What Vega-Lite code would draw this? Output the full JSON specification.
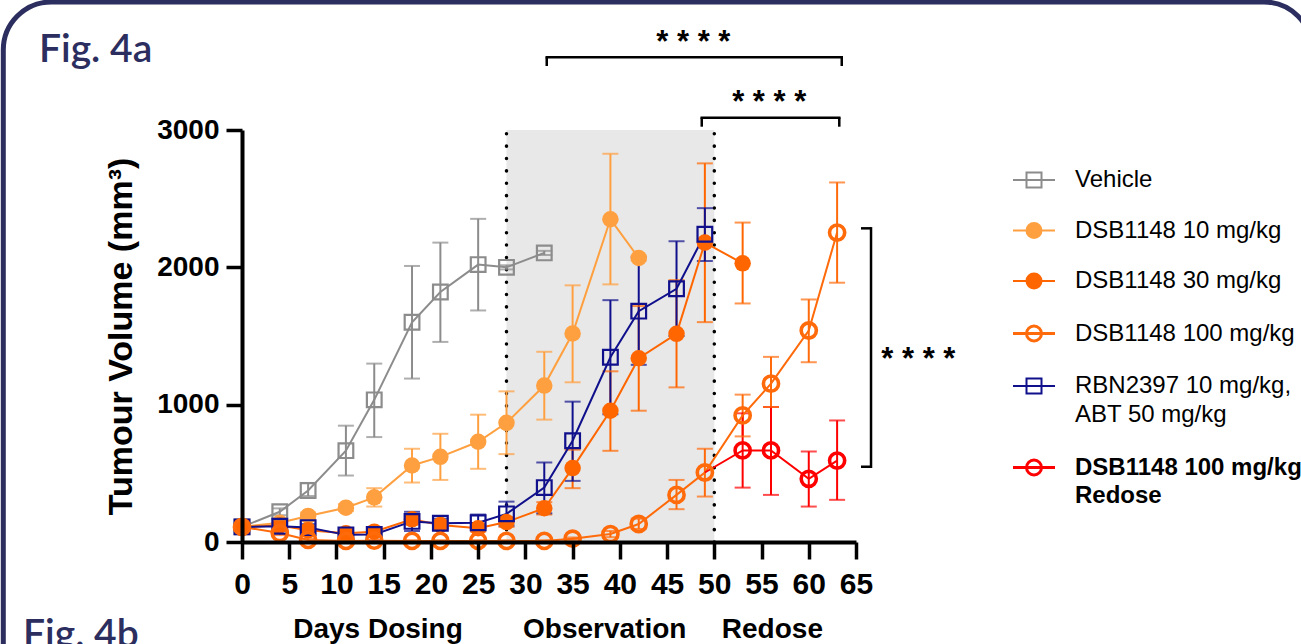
{
  "$schema": "https://vega.github.io/schema/vega-lite/v6.json",
  "width": 614,
  "height": 412,
  "autosize": {"type": "none"},
  "padding": {"left": 242, "top": 130, "right": 445, "bottom": 102},
  "background": "white",
  "config": {"view": {"stroke": null}, "font": "Liberation Sans"},
  "resolve": {"axis": {"x": "independent", "y": "independent"}, "legend": {"color": "independent"}},
  "datasets": {
    "tv": [
      {"s": "Vehicle", "day": 0, "v": 110, "lo": 95, "hi": 125},
      {"s": "Vehicle", "day": 4, "v": 220, "lo": 195, "hi": 245},
      {"s": "Vehicle", "day": 7, "v": 375, "lo": 335, "hi": 430},
      {"s": "Vehicle", "day": 11, "v": 665, "lo": 484, "hi": 847},
      {"s": "Vehicle", "day": 14, "v": 1035, "lo": 764, "hi": 1299},
      {"s": "Vehicle", "day": 18, "v": 1600, "lo": 1190, "hi": 2010},
      {"s": "Vehicle", "day": 21, "v": 1820, "lo": 1457, "hi": 2180},
      {"s": "Vehicle", "day": 25, "v": 2020, "lo": 1686, "hi": 2353},
      {"s": "Vehicle", "day": 28, "v": 2000, "lo": 1985, "hi": 2015},
      {"s": "Vehicle", "day": 32, "v": 2105, "lo": 2090, "hi": 2120},
      {"s": "DSB1148 10 mg/kg", "day": 0, "v": 110, "lo": 95, "hi": 125},
      {"s": "DSB1148 10 mg/kg", "day": 4, "v": 140, "lo": 120, "hi": 160},
      {"s": "DSB1148 10 mg/kg", "day": 7, "v": 190, "lo": 165, "hi": 215},
      {"s": "DSB1148 10 mg/kg", "day": 11, "v": 250, "lo": 225, "hi": 275},
      {"s": "DSB1148 10 mg/kg", "day": 14, "v": 325, "lo": 258, "hi": 392},
      {"s": "DSB1148 10 mg/kg", "day": 18, "v": 557, "lo": 433, "hi": 679},
      {"s": "DSB1148 10 mg/kg", "day": 21, "v": 620, "lo": 452, "hi": 788},
      {"s": "DSB1148 10 mg/kg", "day": 25, "v": 730, "lo": 533, "hi": 927},
      {"s": "DSB1148 10 mg/kg", "day": 28, "v": 868, "lo": 640, "hi": 1097},
      {"s": "DSB1148 10 mg/kg", "day": 32, "v": 1139, "lo": 891, "hi": 1385},
      {"s": "DSB1148 10 mg/kg", "day": 35, "v": 1518, "lo": 1163, "hi": 1869},
      {"s": "DSB1148 10 mg/kg", "day": 39, "v": 2350, "lo": 1876, "hi": 2827},
      {"s": "DSB1148 10 mg/kg", "day": 42, "v": 2068, "lo": 2050, "hi": 2085},
      {"s": "DSB1148 30 mg/kg", "day": 0, "v": 110, "lo": 95, "hi": 125},
      {"s": "DSB1148 30 mg/kg", "day": 4, "v": 120, "lo": 100, "hi": 140},
      {"s": "DSB1148 30 mg/kg", "day": 7, "v": 85, "lo": 60, "hi": 110},
      {"s": "DSB1148 30 mg/kg", "day": 11, "v": 63, "lo": 45, "hi": 80},
      {"s": "DSB1148 30 mg/kg", "day": 14, "v": 75, "lo": 55, "hi": 95},
      {"s": "DSB1148 30 mg/kg", "day": 18, "v": 165, "lo": 130, "hi": 200},
      {"s": "DSB1148 30 mg/kg", "day": 21, "v": 124, "lo": 100, "hi": 150},
      {"s": "DSB1148 30 mg/kg", "day": 25, "v": 100, "lo": 75, "hi": 125},
      {"s": "DSB1148 30 mg/kg", "day": 28, "v": 145, "lo": 110, "hi": 180},
      {"s": "DSB1148 30 mg/kg", "day": 32, "v": 246, "lo": 200, "hi": 290},
      {"s": "DSB1148 30 mg/kg", "day": 35, "v": 538, "lo": 392, "hi": 672},
      {"s": "DSB1148 30 mg/kg", "day": 39, "v": 956, "lo": 664, "hi": 1243},
      {"s": "DSB1148 30 mg/kg", "day": 42, "v": 1338, "lo": 956, "hi": 1718},
      {"s": "DSB1148 30 mg/kg", "day": 46, "v": 1516, "lo": 1126, "hi": 1907},
      {"s": "DSB1148 30 mg/kg", "day": 49, "v": 2180, "lo": 1601, "hi": 2757},
      {"s": "DSB1148 30 mg/kg", "day": 53, "v": 2029, "lo": 1737, "hi": 2326},
      {"s": "DSB1148 100 mg/kg", "day": 0, "v": 110, "lo": 95, "hi": 125},
      {"s": "DSB1148 100 mg/kg", "day": 4, "v": 65, "lo": 50, "hi": 80},
      {"s": "DSB1148 100 mg/kg", "day": 7, "v": 15, "lo": 5, "hi": 25},
      {"s": "DSB1148 100 mg/kg", "day": 11, "v": 8, "lo": 3, "hi": 13},
      {"s": "DSB1148 100 mg/kg", "day": 14, "v": 10, "lo": 5, "hi": 15},
      {"s": "DSB1148 100 mg/kg", "day": 18, "v": 8, "lo": 3, "hi": 13},
      {"s": "DSB1148 100 mg/kg", "day": 21, "v": 8, "lo": 3, "hi": 13},
      {"s": "DSB1148 100 mg/kg", "day": 25, "v": 8, "lo": 3, "hi": 13},
      {"s": "DSB1148 100 mg/kg", "day": 28, "v": 8, "lo": 3, "hi": 13},
      {"s": "DSB1148 100 mg/kg", "day": 32, "v": 8, "lo": 3, "hi": 13},
      {"s": "DSB1148 100 mg/kg", "day": 35, "v": 24, "lo": 15, "hi": 33},
      {"s": "DSB1148 100 mg/kg", "day": 39, "v": 58, "lo": 35, "hi": 80},
      {"s": "DSB1148 100 mg/kg", "day": 42, "v": 131, "lo": 95, "hi": 170},
      {"s": "DSB1148 100 mg/kg", "day": 46, "v": 343, "lo": 239, "hi": 452},
      {"s": "DSB1148 100 mg/kg", "day": 49, "v": 506, "lo": 331, "hi": 679},
      {"s": "DSB1148 100 mg/kg", "day": 53, "v": 922, "lo": 769, "hi": 1073},
      {"s": "DSB1148 100 mg/kg", "day": 56, "v": 1153, "lo": 983, "hi": 1348},
      {"s": "DSB1148 100 mg/kg", "day": 60, "v": 1540, "lo": 1309, "hi": 1766},
      {"s": "DSB1148 100 mg/kg", "day": 63, "v": 2253, "lo": 1888, "hi": 2618},
      {"s": "RBN2397 10 mg/kg, ABT 50 mg/kg", "day": 0, "v": 110, "lo": 95, "hi": 125},
      {"s": "RBN2397 10 mg/kg, ABT 50 mg/kg", "day": 4, "v": 115, "lo": 95, "hi": 135},
      {"s": "RBN2397 10 mg/kg, ABT 50 mg/kg", "day": 7, "v": 105, "lo": 80, "hi": 130},
      {"s": "RBN2397 10 mg/kg, ABT 50 mg/kg", "day": 11, "v": 52, "lo": 35, "hi": 70},
      {"s": "RBN2397 10 mg/kg, ABT 50 mg/kg", "day": 14, "v": 55, "lo": 35, "hi": 75},
      {"s": "RBN2397 10 mg/kg, ABT 50 mg/kg", "day": 18, "v": 150, "lo": 80, "hi": 220},
      {"s": "RBN2397 10 mg/kg, ABT 50 mg/kg", "day": 21, "v": 136, "lo": 100, "hi": 170},
      {"s": "RBN2397 10 mg/kg, ABT 50 mg/kg", "day": 25, "v": 140, "lo": 85, "hi": 200},
      {"s": "RBN2397 10 mg/kg, ABT 50 mg/kg", "day": 28, "v": 205, "lo": 120, "hi": 294},
      {"s": "RBN2397 10 mg/kg, ABT 50 mg/kg", "day": 32, "v": 396, "lo": 209, "hi": 579},
      {"s": "RBN2397 10 mg/kg, ABT 50 mg/kg", "day": 35, "v": 737, "lo": 445, "hi": 1022},
      {"s": "RBN2397 10 mg/kg, ABT 50 mg/kg", "day": 39, "v": 1345, "lo": 930, "hi": 1761},
      {"s": "RBN2397 10 mg/kg, ABT 50 mg/kg", "day": 42, "v": 1681, "lo": 1290, "hi": 2073},
      {"s": "RBN2397 10 mg/kg, ABT 50 mg/kg", "day": 46, "v": 1844, "lo": 1500, "hi": 2190},
      {"s": "RBN2397 10 mg/kg, ABT 50 mg/kg", "day": 49, "v": 2241, "lo": 2046, "hi": 2431},
      {"s": "DSB1148 100 mg/kg Redose", "day": 49, "v": 506},
      {"s": "DSB1148 100 mg/kg Redose", "day": 53, "v": 667, "lo": 396, "hi": 937},
      {"s": "DSB1148 100 mg/kg Redose", "day": 56, "v": 667, "lo": 343, "hi": 983},
      {"s": "DSB1148 100 mg/kg Redose", "day": 60, "v": 460, "lo": 258, "hi": 659},
      {"s": "DSB1148 100 mg/kg Redose", "day": 63, "v": 593, "lo": 307, "hi": 885}
    ]
  },
  "layer": [
    {
      "data": {"values": [{}]},
      "mark": {"type": "rect", "cornerRadius": 48, "filled": false, "fillOpacity": 0, "stroke": "#2B2E5E", "strokeWidth": 5},
      "encoding": {
        "x": {"datum": -25.27, "type": "quantitative", "scale": {"domain": [0, 65], "nice": false}, "axis": null},
        "x2": {"datum": 113.27},
        "y": {"datum": 3932, "type": "quantitative", "scale": {"domain": [0, 3000], "nice": false}, "axis": null},
        "y2": {"datum": -1296}
      }
    },
    {
      "data": {"values": [{}]},
      "mark": {"type": "rect", "fill": "#E8E8E8"},
      "encoding": {
        "x": {"datum": 28, "type": "quantitative", "scale": {"domain": [0, 65], "nice": false}, "axis": null},
        "x2": {"datum": 50},
        "y": {"datum": 0, "type": "quantitative", "scale": {"domain": [0, 3000], "nice": false}, "axis": null},
        "y2": {"datum": 3000}
      }
    },
    {
      "data": {"values": [{"d": 28}, {"d": 50}]},
      "mark": {"type": "rule", "color": "black", "strokeWidth": 3.5, "strokeCap": "round", "strokeDash": [0.1, 12.27]},
      "encoding": {
        "x": {"field": "d", "type": "quantitative", "scale": {"domain": [0, 65], "nice": false}, "axis": null},
        "y": {"datum": 0, "type": "quantitative", "scale": {"domain": [0, 3000], "nice": false}, "axis": null},
        "y2": {"datum": 3000}
      }
    },
    {
      "data": {"name": "tv"},
      "transform": [{"filter": "isValid(datum.lo)"}],
      "mark": {"type": "rule", "strokeWidth": 2},
      "encoding": {
        "x": {"field": "day", "type": "quantitative", "scale": {"domain": [0, 65], "nice": false}, "axis": null},
        "y": {"field": "lo", "type": "quantitative", "scale": {"domain": [0, 3000], "nice": false}, "axis": null},
        "y2": {"field": "hi"},
        "color": {"field": "s", "type": "nominal", "legend": null,
          "scale": {"domain": ["Vehicle", "DSB1148 10 mg/kg", "DSB1148 30 mg/kg", "DSB1148 100 mg/kg", "RBN2397 10 mg/kg, ABT 50 mg/kg", "DSB1148 100 mg/kg Redose"],
                    "range": ["#8C8C8C", "#FFA040", "#FF6600", "#FF6A0A", "#10108C", "#FF0000"]}}
      }
    },
    {
      "data": {"name": "tv"},
      "transform": [{"filter": "isValid(datum.lo)"}],
      "mark": {"type": "tick", "orient": "horizontal", "size": 16, "thickness": 2},
      "encoding": {
        "x": {"field": "day", "type": "quantitative", "scale": {"domain": [0, 65], "nice": false}, "axis": null},
        "y": {"field": "hi", "type": "quantitative", "scale": {"domain": [0, 3000], "nice": false}, "axis": null},
        "color": {"field": "s", "type": "nominal", "legend": null,
          "scale": {"domain": ["Vehicle", "DSB1148 10 mg/kg", "DSB1148 30 mg/kg", "DSB1148 100 mg/kg", "RBN2397 10 mg/kg, ABT 50 mg/kg", "DSB1148 100 mg/kg Redose"],
                    "range": ["#8C8C8C", "#FFA040", "#FF6600", "#FF6A0A", "#10108C", "#FF0000"]}}
      }
    },
    {
      "data": {"name": "tv"},
      "transform": [{"filter": "isValid(datum.lo)"}],
      "mark": {"type": "tick", "orient": "horizontal", "size": 16, "thickness": 2},
      "encoding": {
        "x": {"field": "day", "type": "quantitative", "scale": {"domain": [0, 65], "nice": false}, "axis": null},
        "y": {"field": "lo", "type": "quantitative", "scale": {"domain": [0, 3000], "nice": false}, "axis": null},
        "color": {"field": "s", "type": "nominal", "legend": null,
          "scale": {"domain": ["Vehicle", "DSB1148 10 mg/kg", "DSB1148 30 mg/kg", "DSB1148 100 mg/kg", "RBN2397 10 mg/kg, ABT 50 mg/kg", "DSB1148 100 mg/kg Redose"],
                    "range": ["#8C8C8C", "#FFA040", "#FF6600", "#FF6A0A", "#10108C", "#FF0000"]}}
      }
    },
    {
      "data": {"name": "tv"},
      "mark": {"type": "line", "strokeWidth": 2},
      "encoding": {
        "x": {"field": "day", "type": "quantitative", "scale": {"domain": [0, 65], "nice": false},
          "axis": {"orient": "bottom", "values": [0, 5, 10, 15, 20, 25, 30, 35, 40, 45, 50, 55, 60, 65], "title": null, "grid": false, "zindex": 5,
                   "domainColor": "black", "domainWidth": 4, "tickColor": "black", "tickWidth": 3.5, "tickSize": 17,
                   "labelFont": "Liberation Sans", "labelFontSize": 30, "labelFontWeight": "bold", "labelColor": "black",
                   "labelPadding": 10, "labelFlush": false, "labelOverlap": false}},
        "y": {"field": "v", "type": "quantitative", "scale": {"domain": [0, 3000], "nice": false},
          "axis": {"orient": "left", "values": [0, 1000, 2000, 3000], "format": "d", "title": "Tumour Volume (mm³)", "grid": false, "zindex": 5,
                   "titleFont": "Liberation Sans", "titleFontSize": 34, "titleFontWeight": "bold", "titleColor": "black", "titlePadding": 18,
                   "domainColor": "black", "domainWidth": 4, "tickColor": "black", "tickWidth": 3.5, "tickSize": 16,
                   "labelFont": "Liberation Sans", "labelFontSize": 28, "labelFontWeight": "bold", "labelColor": "black",
                   "labelPadding": 7, "labelFlush": false, "labelOverlap": false}},
        "color": {"field": "s", "type": "nominal",
          "scale": {"domain": ["Vehicle", "DSB1148 10 mg/kg", "DSB1148 30 mg/kg", "DSB1148 100 mg/kg", "RBN2397 10 mg/kg, ABT 50 mg/kg", "DSB1148 100 mg/kg Redose"],
                    "range": ["#8C8C8C", "#FFA040", "#FF6600", "#FF6A0A", "#10108C", "#FF0000"]},
          "legend": {
            "orient": "none", "legendX": 780, "legendY": 38, "title": null, "padding": 0, "zindex": 5,
            "labelFont": "Liberation Sans", "labelFontSize": 24, "labelColor": "black", "labelLimit": 400,
            "labelOffset": 29, "symbolSize": 225, "rowPadding": 26.5,
            "labelExpr": "datum.label == 'RBN2397 10 mg/kg, ABT 50 mg/kg' ? ['RBN2397 10 mg/kg,', 'ABT 50 mg/kg'] : (datum.label == 'DSB1148 100 mg/kg Redose' ? ['DSB1148 100 mg/kg', 'Redose'] : datum.label)",
            "encode": {
              "symbols": {"update": {
                "shape": {"signal": "indexof(['Vehicle','RBN2397 10 mg/kg, ABT 50 mg/kg'], datum.value) >= 0 ? 'M-2.8,0H2.8M-1,-1H1V1H-1Z' : 'M-2.8,0H2.8M1,0A1,1,0,1,1,-1,0A1,1,0,1,1,1,0Z'"},
                "fill": {"signal": "indexof(['DSB1148 10 mg/kg','DSB1148 30 mg/kg'], datum.value) >= 0 ? scale('color', datum.value) : 'transparent'"},
                "stroke": {"signal": "scale('color', datum.value)"},
                "strokeWidth": {"signal": "indexof(['DSB1148 100 mg/kg','DSB1148 100 mg/kg Redose'], datum.value) >= 0 ? 3 : 2"},
                "opacity": {"value": 1}
              }},
              "labels": {"update": {
                "fontWeight": {"signal": "datum.value == 'DSB1148 100 mg/kg Redose' ? 'bold' : 'normal'"},
                "lineHeight": {"value": 28.5}
              }}
            }
          }}
      }
    },
    {
      "data": {"name": "tv"},
      "transform": [{"filter": "datum.s == 'DSB1148 10 mg/kg' || datum.s == 'DSB1148 30 mg/kg'"}],
      "mark": {"type": "point", "shape": "circle", "filled": true, "size": 272, "opacity": 1},
      "encoding": {
        "x": {"field": "day", "type": "quantitative", "scale": {"domain": [0, 65], "nice": false}, "axis": null},
        "y": {"field": "v", "type": "quantitative", "scale": {"domain": [0, 3000], "nice": false}, "axis": null},
        "color": {"field": "s", "type": "nominal", "legend": null,
          "scale": {"domain": ["Vehicle", "DSB1148 10 mg/kg", "DSB1148 30 mg/kg", "DSB1148 100 mg/kg", "RBN2397 10 mg/kg, ABT 50 mg/kg", "DSB1148 100 mg/kg Redose"],
                    "range": ["#8C8C8C", "#FFA040", "#FF6600", "#FF6A0A", "#10108C", "#FF0000"]}}
      }
    },
    {
      "data": {"name": "tv"},
      "transform": [{"filter": "datum.s == 'Vehicle' || datum.s == 'RBN2397 10 mg/kg, ABT 50 mg/kg'"}],
      "mark": {"type": "point", "shape": "square", "filled": false, "size": 216, "strokeWidth": 2.2, "opacity": 1},
      "encoding": {
        "x": {"field": "day", "type": "quantitative", "scale": {"domain": [0, 65], "nice": false}, "axis": null},
        "y": {"field": "v", "type": "quantitative", "scale": {"domain": [0, 3000], "nice": false}, "axis": null},
        "color": {"field": "s", "type": "nominal", "legend": null,
          "scale": {"domain": ["Vehicle", "DSB1148 10 mg/kg", "DSB1148 30 mg/kg", "DSB1148 100 mg/kg", "RBN2397 10 mg/kg, ABT 50 mg/kg", "DSB1148 100 mg/kg Redose"],
                    "range": ["#8C8C8C", "#FFA040", "#FF6600", "#FF6A0A", "#10108C", "#FF0000"]}}
      }
    },
    {
      "data": {"name": "tv"},
      "transform": [{"filter": "(datum.s == 'DSB1148 100 mg/kg' || datum.s == 'DSB1148 100 mg/kg Redose') && isValid(datum.lo)"}],
      "mark": {"type": "point", "shape": "circle", "filled": false, "size": 230, "strokeWidth": 3.6, "opacity": 1},
      "encoding": {
        "x": {"field": "day", "type": "quantitative", "scale": {"domain": [0, 65], "nice": false}, "axis": null},
        "y": {"field": "v", "type": "quantitative", "scale": {"domain": [0, 3000], "nice": false}, "axis": null},
        "color": {"field": "s", "type": "nominal", "legend": null,
          "scale": {"domain": ["Vehicle", "DSB1148 10 mg/kg", "DSB1148 30 mg/kg", "DSB1148 100 mg/kg", "RBN2397 10 mg/kg, ABT 50 mg/kg", "DSB1148 100 mg/kg Redose"],
                    "range": ["#8C8C8C", "#FFA040", "#FF6600", "#FF6A0A", "#10108C", "#FF0000"]}}
      }
    },
    {
      "data": {"values": [{}]},
      "mark": {"type": "rule", "color": "black", "strokeWidth": 2.5, "strokeCap": "square"},
      "encoding": {
        "x": {"datum": 32.26, "type": "quantitative", "scale": {"domain": [0, 65], "nice": false}, "axis": null},
        "x2": {"datum": 63.49},
        "y": {"datum": 3529, "type": "quantitative", "scale": {"domain": [0, 3000], "nice": false}, "axis": null}
      }
    },
    {
      "data": {"values": [{"d": 32.26}, {"d": 63.49}]},
      "mark": {"type": "rule", "color": "black", "strokeWidth": 2.5},
      "encoding": {
        "x": {"field": "d", "type": "quantitative", "scale": {"domain": [0, 65], "nice": false}, "axis": null},
        "y": {"datum": 3466, "type": "quantitative", "scale": {"domain": [0, 3000], "nice": false}, "axis": null},
        "y2": {"datum": 3529}
      }
    },
    {
      "data": {"values": [{}]},
      "mark": {"type": "rule", "color": "black", "strokeWidth": 2.5, "strokeCap": "square"},
      "encoding": {
        "x": {"datum": 48.67, "type": "quantitative", "scale": {"domain": [0, 65], "nice": false}, "axis": null},
        "x2": {"datum": 63.23},
        "y": {"datum": 3090, "type": "quantitative", "scale": {"domain": [0, 3000], "nice": false}, "axis": null}
      }
    },
    {
      "data": {"values": [{"d": 48.67}, {"d": 63.23}]},
      "mark": {"type": "rule", "color": "black", "strokeWidth": 2.5},
      "encoding": {
        "x": {"field": "d", "type": "quantitative", "scale": {"domain": [0, 65], "nice": false}, "axis": null},
        "y": {"datum": 3024, "type": "quantitative", "scale": {"domain": [0, 3000], "nice": false}, "axis": null},
        "y2": {"datum": 3090}
      }
    },
    {
      "data": {"values": [{}]},
      "mark": {"type": "rule", "color": "black", "strokeWidth": 2.5, "strokeCap": "square"},
      "encoding": {
        "x": {"datum": 66.59, "type": "quantitative", "scale": {"domain": [0, 65], "nice": false}, "axis": null},
        "y": {"datum": 548, "type": "quantitative", "scale": {"domain": [0, 3000], "nice": false}, "axis": null},
        "y2": {"datum": 2284}
      }
    },
    {
      "data": {"values": [{"v": 548}, {"v": 2284}]},
      "mark": {"type": "rule", "color": "black", "strokeWidth": 2.5},
      "encoding": {
        "x": {"datum": 65.53, "type": "quantitative", "scale": {"domain": [0, 65], "nice": false}, "axis": null},
        "x2": {"datum": 66.59},
        "y": {"field": "v", "type": "quantitative", "scale": {"domain": [0, 3000], "nice": false}, "axis": null}
      }
    },
    {
      "data": {"values": [{}]},
      "mark": {"type": "text", "text": "* * * *", "font": "Liberation Sans", "fontSize": 31, "fontWeight": "bold", "color": "black", "align": "center", "baseline": "alphabetic"},
      "encoding": {
        "x": {"datum": 47.78, "type": "quantitative", "scale": {"domain": [0, 65], "nice": false}, "axis": null},
        "y": {"datum": 3565, "type": "quantitative", "scale": {"domain": [0, 3000], "nice": false}, "axis": null}
      }
    },
    {
      "data": {"values": [{}]},
      "mark": {"type": "text", "text": "* * * *", "font": "Liberation Sans", "fontSize": 31, "fontWeight": "bold", "color": "black", "align": "center", "baseline": "alphabetic"},
      "encoding": {
        "x": {"datum": 55.81, "type": "quantitative", "scale": {"domain": [0, 65], "nice": false}, "axis": null},
        "y": {"datum": 3128, "type": "quantitative", "scale": {"domain": [0, 3000], "nice": false}, "axis": null}
      }
    },
    {
      "data": {"values": [{}]},
      "mark": {"type": "text", "text": "* * * *", "font": "Liberation Sans", "fontSize": 31, "fontWeight": "bold", "color": "black", "align": "center", "baseline": "alphabetic"},
      "encoding": {
        "x": {"datum": 71.6, "type": "quantitative", "scale": {"domain": [0, 65], "nice": false}, "axis": null},
        "y": {"datum": 1263, "type": "quantitative", "scale": {"domain": [0, 3000], "nice": false}, "axis": null}
      }
    },
    {
      "data": {"values": [{"phase": "Days Dosing", "day": 14.4}, {"phase": "Observation", "day": 38.4}, {"phase": "Redose", "day": 56.15}]},
      "mark": {"type": "text", "font": "Liberation Sans", "fontSize": 28, "fontWeight": "bold", "color": "black", "align": "center", "baseline": "middle"},
      "encoding": {
        "x": {"field": "day", "type": "quantitative", "scale": {"domain": [0, 65], "nice": false}, "axis": null},
        "y": {"datum": -641, "type": "quantitative", "scale": {"domain": [0, 3000], "nice": false}, "axis": null},
        "text": {"field": "phase"}
      }
    },
    {
      "data": {"values": [{}]},
      "mark": {"type": "text", "text": "Fig. 4a", "font": "Lato", "fontSize": 39, "fontWeight": 600, "color": "#2B2E5E", "align": "left", "baseline": "alphabetic"},
      "encoding": {
        "x": {"datum": -21.49, "type": "quantitative", "scale": {"domain": [0, 65], "nice": false}, "axis": null},
        "y": {"datum": 3495, "type": "quantitative", "scale": {"domain": [0, 3000], "nice": false}, "axis": null}
      }
    },
    {
      "data": {"values": [{}]},
      "mark": {"type": "text", "text": "Fig. 4b", "font": "Lato", "fontSize": 39, "fontWeight": 600, "color": "#2B2E5E", "align": "left", "baseline": "alphabetic"},
      "encoding": {
        "x": {"datum": -23.18, "type": "quantitative", "scale": {"domain": [0, 65], "nice": false}, "axis": null},
        "y": {"datum": -765, "type": "quantitative", "scale": {"domain": [0, 3000], "nice": false}, "axis": null}
      }
    }
  ]
}
